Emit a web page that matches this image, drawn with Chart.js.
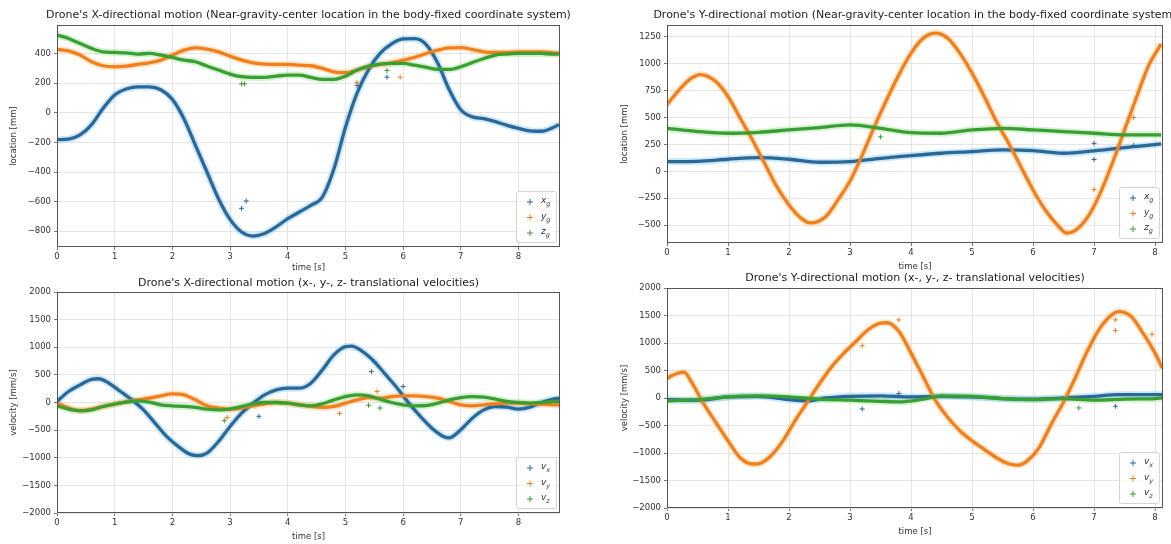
<!DOCTYPE html>
<html>
<head>
<meta charset="utf-8">
<script src="https://cdn.jsdelivr.net/npm/chart.js@4.4.0/dist/chart.umd.min.js"></script>
<style>
  body { margin: 0; background: #fff; width: 1171px; height: 544px; position: relative; overflow: hidden; font-family: "DejaVu Sans", sans-serif; }
  .panel { position: absolute; }
</style>
</head>
<body>
<div class="panel" style="left:0;top:0;width:575px;height:275px"><canvas id="locX"></canvas></div>
<div class="panel" style="left:605px;top:0;width:566px;height:275px"><canvas id="locY"></canvas></div>
<div class="panel" style="left:0;top:270px;width:575px;height:274px"><canvas id="velX"></canvas></div>
<div class="panel" style="left:605px;top:266px;width:566px;height:278px"><canvas id="velY"></canvas></div>
<script>
// ---- data ----
const xTicksX = [0, 1, 2, 3, 4, 5, 6, 7, 8];
const yTicksLocX = [-800, -600, -400, -200, 0, 200, 400];
const yTicksLocY = [-500, -250, 0, 250, 500, 750, 1000, 1250];
const yTicksVel = [-2000, -1500, -1000, -500, 0, 500, 1000, 1500, 2000];

const locLabels = ['x_g', 'y_g', 'z_g'];
const velLabels = ['v_x', 'v_y', 'v_z'];

// X-directional motion, location
const tLocX = [0,0.2,0.4,0.6,0.8,1,1.2,1.4,1.6,1.8,2,2.2,2.4,2.6,2.8,3,3.2,3.4,3.6,3.8,4,4.2,4.4,4.6,4.8,5,5.2,5.4,5.6,5.8,6,6.2,6.4,6.6,6.8,7,7.2,7.4,7.6,7.8,8,8.2,8.4,8.6,8.7];
const locXx = [-182,-178,-150,-80,30,120,160,175,175,155,90,-40,-220,-400,-580,-720,-805,-832,-815,-770,-715,-670,-625,-570,-380,-100,130,290,400,465,498,500,460,335,155,20,-28,-40,-60,-85,-105,-122,-125,-100,-80];
const locXy = [427,418,389,344,317,310,315,326,337,355,389,422,438,429,411,382,355,337,328,326,326,321,317,299,276,270,288,310,326,337,355,373,400,422,438,440,427,411,407,407,411,411,411,404,400];
const locXz = [524,501,467,434,411,407,404,396,400,389,373,355,344,315,288,261,243,238,238,247,254,254,238,225,225,247,288,315,328,333,333,321,306,292,292,310,339,366,389,396,400,400,400,396,396];
const outLocX = [[3.2,-645,0],[3.28,-595,0],[3.2,195,2],[3.25,195,2],[5.2,205,1],[5.2,185,0],[5.72,285,2],[5.72,240,0],[5.95,240,1]];

// Y-directional motion, location
const tLocYy = [0,0.2,0.4,0.55,0.8,1,1.2,1.4,1.6,1.8,2,2.2,2.35,2.6,2.8,3,3.2,3.4,3.6,3.8,4,4.2,4.4,4.6,4.8,5,5.2,5.4,5.6,5.8,6,6.2,6.4,6.55,6.7,6.9,7.1,7.3,7.5,7.7,7.9,8.1];
const locYy = [620,758,866,900,835,696,494,292,75,-143,-314,-438,-480,-422,-267,-90,150,416,665,897,1099,1239,1286,1239,1099,913,696,463,261,43,-174,-360,-500,-575,-547,-422,-205,75,385,696,990,1185];
const tLocYxz = [0,0.5,1,1.5,2,2.5,3,3.5,4,4.5,5,5.5,6,6.5,7,7.5,8,8.1];
const locYx = [90,92,112,127,112,84,90,121,146,168,183,199,193,168,190,220,248,255];
const locYz = [400,370,354,363,385,407,432,400,360,354,385,400,385,370,354,339,339,339];
const outLocY = [[7.0,260,0],[7.0,110,0],[7.0,-170,1],[3.5,320,2],[7.65,500,1],[7.65,240,0]];

// X-directional motion, velocities
const tVelXx = [0,0.2,0.4,0.6,0.72,0.9,1.1,1.3,1.5,1.7,1.9,2.1,2.3,2.45,2.6,2.8,3,3.2,3.4,3.6,3.8,4,4.2,4.4,4.6,4.8,5,5.1,5.3,5.5,5.7,5.9,6.1,6.3,6.5,6.7,6.8,7,7.2,7.4,7.6,7.8,8,8.2,8.4,8.6,8.72];
const velXx = [18,199,319,420,430,349,199,48,-133,-373,-614,-795,-934,-960,-916,-705,-434,-193,-12,139,229,259,259,349,590,861,1010,1020,922,741,500,259,-12,-253,-464,-614,-640,-494,-283,-133,-72,-84,-120,-84,0,60,78];
const tVelXyz = [0,0.2,0.4,0.6,0.8,1,1.2,1.4,1.6,1.8,2,2.2,2.4,2.6,2.8,3,3.2,3.4,3.6,3.8,4,4.2,4.4,4.6,4.8,5,5.2,5.4,5.6,5.8,6,6.2,6.4,6.6,6.8,7,7.2,7.4,7.6,7.8,8,8.2,8.4,8.6,8.72];
const velXy = [-12,-100,-145,-120,-72,-24,18,48,78,120,157,139,48,-60,-100,-120,-100,-60,-24,0,-12,-42,-72,-90,-72,-12,48,90,78,108,120,120,108,78,18,-42,-60,-42,-24,-12,-12,-24,-30,-42,-42];
const velXz = [-60,-120,-150,-133,-72,-30,6,30,6,-42,-60,-72,-90,-120,-133,-120,-72,-24,0,0,-12,-42,-60,-24,48,108,139,120,60,0,-42,-60,-54,-12,48,90,108,96,60,18,0,-12,0,18,18];
const outVelX = [[2.9,-330,2],[2.95,-270,1],[3.5,-250,0],[5.45,560,0],[5.5,740,0],[5.6,-100,2],[5.4,-50,2],[6.0,290,0],[4.9,-200,1],[5.55,200,1]];

// Y-directional motion, velocities
const tVelYy = [0,0.1,0.28,0.4,0.6,0.8,1,1.2,1.4,1.5,1.7,1.9,2.1,2.3,2.5,2.7,2.9,3.1,3.3,3.5,3.6,3.8,4,4.2,4.4,4.6,4.8,5,5.2,5.4,5.6,5.75,5.9,6.1,6.3,6.5,6.7,6.9,7.1,7.3,7.4,7.6,7.8,8,8.12];
const velYy = [356,417,470,294,-104,-442,-779,-1086,-1200,-1196,-1055,-779,-411,-74,264,571,816,1031,1245,1360,1368,1215,816,387,-43,-350,-595,-779,-933,-1086,-1196,-1221,-1147,-902,-472,-74,387,877,1276,1521,1571,1491,1184,816,540];
const tVelYx = [0,0.5,1,1.5,2,2.3,2.6,3,3.5,4,4.5,5,5.5,6,6.5,7,7.4,8,8.12];
const velYx = [-30,-40,20,30,-30,-50,0,30,40,20,30,20,-10,-20,0,30,60,60,60];
const tVelYz = [0,0.5,1,1.5,2,2.5,3,3.5,3.8,4.2,4.5,5,5.5,6,6.5,7,7.5,8,8.12];
const velYz = [-50,-30,20,40,20,-20,-40,-60,-70,-20,40,30,-10,-30,-10,-40,-20,-10,0];
const outVelY = [[3.2,950,1],[3.2,-200,0],[3.8,1420,1],[3.8,80,0],[7.35,1420,1],[7.35,1230,1],[7.35,-150,0],[6.75,-180,2],[7.95,1160,1]];

// ---- styling ----
const colors = ['#2a6898', '#f27f1c', '#38a033'];
const halos = ['rgba(110,185,235,0.35)', 'rgba(255,185,110,0.35)', 'rgba(140,215,130,0.35)'];
const FONT = '"DejaVu Sans", sans-serif';

function pts(ts, vs) {
  return ts.map((t, i) => ({ x: t, y: vs[i] }));
}

function fmt(v) {
  return v < 0 ? '\u2212' + (-v) : String(v);
}

// box round the plot area (matplotlib spines)
const frame = {
  id: 'frame',
  afterDraw(chart) {
    const { ctx, chartArea: a } = chart;
    ctx.save();
    ctx.strokeStyle = '#555';
    ctx.lineWidth = 1;
    ctx.strokeRect(Math.round(a.left) + 0.5, Math.round(a.top) + 0.5, Math.round(a.right - a.left) - 1, Math.round(a.bottom - a.top) - 1);
    ctx.restore();
  }
};

// title centred over the plot area, like matplotlib does
const axTitle = {
  id: 'axTitle',
  afterDraw(chart, args, opts) {
    const { ctx, chartArea: a } = chart;
    ctx.save();
    ctx.font = '11px ' + FONT;
    ctx.fillStyle = '#222';
    ctx.textAlign = 'center';
    ctx.textBaseline = 'middle';
    ctx.fillText(opts.text, (a.left + a.right) / 2, opts.y);
    ctx.restore();
  }
};

// small legend in the lower right corner, labels with subscripts
const legendBox = {
  id: 'legendBox',
  afterDraw(chart, args, opts) {
    const { ctx, chartArea: a } = chart;
    const w = 40, h = 51;
    const x = Math.round(a.right - 4 - w), y = Math.round(a.bottom - 5 - h);
    ctx.save();
    ctx.fillStyle = 'rgba(255,255,255,0.85)';
    ctx.strokeStyle = '#d4d4d4';
    ctx.lineWidth = 1;
    ctx.beginPath();
    ctx.roundRect(x + 0.5, y + 0.5, w, h, 2);
    ctx.fill();
    ctx.stroke();
    opts.labels.forEach((lab, i) => {
      const cy = y + 11 + i * 15.5;
      ctx.strokeStyle = colors[i];
      ctx.beginPath();
      ctx.moveTo(x + 11, cy); ctx.lineTo(x + 17, cy);
      ctx.moveTo(x + 14, cy - 3); ctx.lineTo(x + 14, cy + 3);
      ctx.stroke();
      const [main, sub] = lab.split('_');
      ctx.fillStyle = '#333';
      ctx.textBaseline = 'middle';
      ctx.font = 'italic 9px ' + FONT;
      ctx.fillText(main, x + 25, cy - 1);
      const mw = ctx.measureText(main).width;
      ctx.font = 'italic 6.5px ' + FONT;
      ctx.fillText(sub, x + 25 + mw, cy + 2.5);
    });
    ctx.restore();
  }
};

function makeChart(id, o) {
  const sets = [];
  o.series.forEach((s, i) => sets.push({
    data: pts(s.t, s.v), borderColor: halos[i], borderWidth: 7, order: 10
  }));
  o.series.forEach((s, i) => sets.push({
    data: pts(s.t, s.v), borderColor: colors[i], borderWidth: 3.3, order: 3 - i
  }));
  o.outliers.forEach(p => sets.push({
    data: [{ x: p[0], y: p[1] }], showLine: false, pointStyle: 'cross',
    pointRadius: 2.5, pointBorderWidth: 1, borderColor: colors[p[2]], order: 0
  }));

  new Chart(document.getElementById(id), {
    type: 'line',
    data: { datasets: sets },
    options: {
      responsive: true,
      maintainAspectRatio: false,
      animation: false,
      layout: { padding: { top: o.padTop, right: o.padRight } },
      elements: {
        point: { radius: 0 },
        line: { cubicInterpolationMode: 'monotone', fill: false }
      },
      plugins: {
        legend: { display: false },
        tooltip: { enabled: false },
        title: { display: false },
        axTitle: { text: o.title, y: o.titleY },
        legendBox: { labels: o.labels }
      },
      scales: {
        x: {
          type: 'linear', min: 0, max: o.xMax,
          afterBuildTicks: s => { s.ticks = xTicksX.map(v => ({ value: v })); },
          afterFit: s => { s.height = o.xH; },
          border: { display: false },
          grid: { color: '#dedede', lineWidth: 0.8, tickColor: '#555', tickLength: 3 },
          ticks: { autoSkip: false, maxRotation: 0, padding: 2, color: '#333', font: { family: FONT, size: 8.5 } },
          title: { display: true, text: 'time [s]', color: '#333', font: { family: FONT, size: 8.5 }, padding: { top: 0, bottom: o.xTitleBottom } }
        },
        y: {
          type: 'linear', min: o.yMin, max: o.yMax,
          afterBuildTicks: s => { s.ticks = o.yTicks.map(v => ({ value: v })); },
          afterFit: s => { s.width = o.yW; },
          border: { display: false },
          grid: { color: '#dedede', lineWidth: 0.8, tickColor: '#555', tickLength: 3 },
          ticks: { padding: 3, color: '#333', font: { family: FONT, size: 8.5 }, callback: v => fmt(v) },
          title: { display: true, text: o.yTitle, color: '#333', font: { family: FONT, size: 8.5 }, padding: { top: o.yTitleLeft, bottom: 0 } }
        }
      }
    },
    plugins: [frame, axTitle, legendBox]
  });
}

makeChart('locX', {
  title: "Drone's X-directional motion (Near-gravity-center location in the body-fixed coordinate system)",
  series: [{ t: tLocX, v: locXx }, { t: tLocX, v: locXy }, { t: tLocX, v: locXz }],
  outliers: outLocX, labels: locLabels,
  xMax: 8.72, yMin: -906, yMax: 592, yTicks: yTicksLocX, yTitle: 'location [mm]',
  padTop: 25, padRight: 15, yW: 57, xH: 28, titleY: 15, xTitleBottom: 2, yTitleLeft: 9
});

makeChart('locY', {
  title: "Drone's Y-directional motion (Near-gravity-center location in the body-fixed coordinate system)",
  series: [{ t: tLocYxz, v: locYx }, { t: tLocYy, v: locYy }, { t: tLocYxz, v: locYz }],
  outliers: outLocY, labels: locLabels,
  xMax: 8.13, yMin: -667, yMax: 1361, yTicks: yTicksLocY, yTitle: 'location [mm]',
  padTop: 25, padRight: 8, yW: 62, xH: 32, titleY: 15, xTitleBottom: 3, yTitleLeft: 15
});

makeChart('velX', {
  title: "Drone's X-directional motion (x-, y-, z- translational velocities)",
  series: [{ t: tVelXx, v: velXx }, { t: tVelXyz, v: velXy }, { t: tVelXyz, v: velXz }],
  outliers: outVelX, labels: velLabels,
  xMax: 8.72, yMin: -2000, yMax: 2000, yTicks: yTicksVel, yTitle: 'velocity [mm/s]',
  padTop: 22, padRight: 15, yW: 57, xH: 31, titleY: 13, xTitleBottom: 2, yTitleLeft: 9
});

makeChart('velY', {
  title: "Drone's Y-directional motion (x-, y-, z- translational velocities)",
  series: [{ t: tVelYx, v: velYx }, { t: tVelYy, v: velYy }, { t: tVelYz, v: velYz }],
  outliers: outVelY, labels: velLabels,
  xMax: 8.13, yMin: -2000, yMax: 2000, yTicks: yTicksVel, yTitle: 'velocity [mm/s]',
  padTop: 22, padRight: 8, yW: 62, xH: 36, titleY: 12, xTitleBottom: 7, yTitleLeft: 15
});
</script>
</body>
</html>
